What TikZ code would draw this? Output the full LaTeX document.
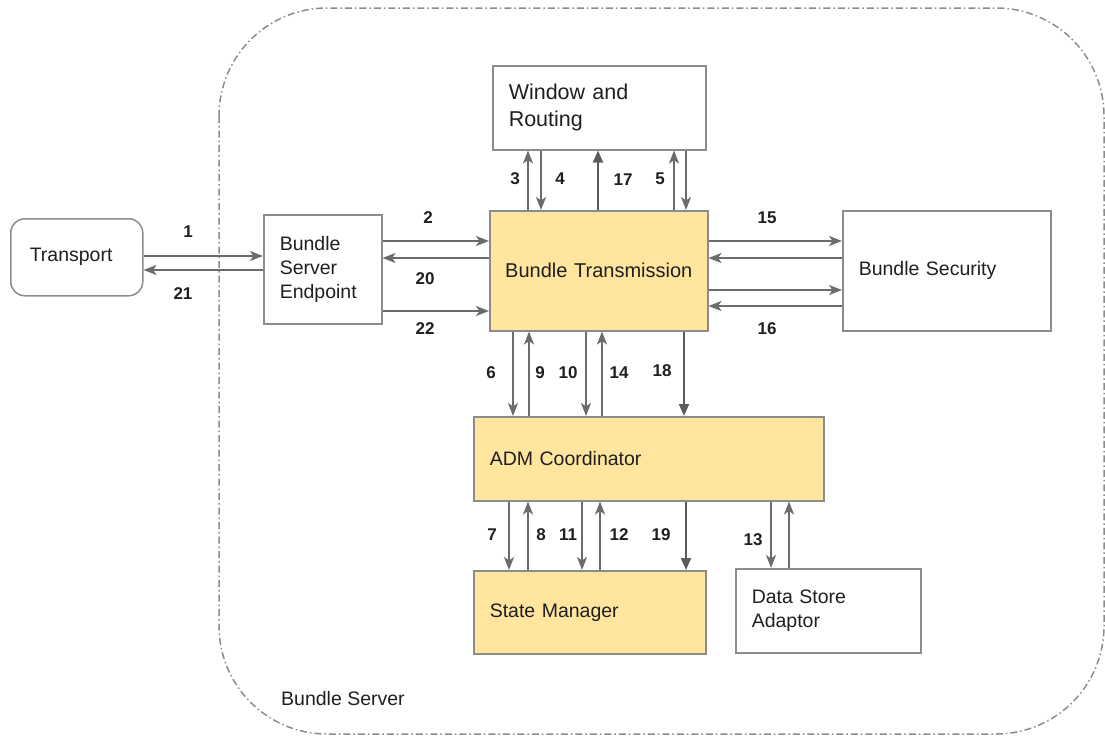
\documentclass[tikz,border=0pt]{standalone}
\usepackage{fontspec}
\setmainfont{Liberation Sans}
\usetikzlibrary{arrows.meta,positioning}
\definecolor{boxline}{HTML}{8C8C8C}
\definecolor{arrline}{HTML}{6B6B6B}
\definecolor{txt}{HTML}{1F1F1F}
\definecolor{hotfill}{HTML}{FFE59E}

\tikzset{
  blk/.style={draw=boxline, line width=1.5pt, text=txt, inner xsep=16pt, inner ysep=0pt,
    anchor=north west, align=left, font=\fontsize{19.5}{24}\selectfont},
  hot/.style={blk, fill=hotfill},
  arr/.style={draw=arrline, line width=1.8pt, -{Stealth[length=13pt,width=10pt,inset=3.5pt]}},
  darr/.style={draw=arrline!85!black, line width=1.8pt, -{Triangle[length=12pt,width=10pt]}},
  num/.style={font=\bfseries\fontsize{17}{17}\selectfont, text=txt, inner sep=0pt},
}

\begin{document}
\begin{tikzpicture}[x=1pt,y=-1pt]
        \useasboundingbox (0,0) rectangle (1105,736);
        % server frame
        \draw[boxline, line width=1.5pt, rounded corners=108pt,
              dash pattern=on 7pt off 3pt on 1.5pt off 3pt] (219,8) rectangle (1104,734);
        \node[anchor=west, text=txt, inner sep=0pt, font=\fontsize{19.5}{24}\selectfont] (srv) at (281,699) {Bundle Server};

        % boxes
        \node[blk, rounded corners=14pt, inner xsep=19pt, minimum width=132pt, minimum height=77pt, text width=94pt] (tr) at (10,218) {Transport};
        \node[blk, minimum width=118pt, minimum height=109pt, text width=86pt] (bse) at (263,214) {Bundle\\Server\\Endpoint};
        \node[blk, minimum width=213pt, minimum height=84pt, text width=181pt,
              font=\fontsize{21.5}{27}\selectfont] (wr) at (492,65) {Window and\\Routing};
        \node[hot, align=center, inner xsep=4pt, minimum width=218pt, minimum height=120pt, text width=210pt,
              font=\fontsize{20}{24}\selectfont] (bt) at (489,210) {Bundle Transmission};
        \node[blk, minimum width=208pt, minimum height=120pt, text width=176pt] (bs) at (842,210) {Bundle Security};
        \node[hot, minimum width=350pt, minimum height=84pt, text width=318pt] (adm) at (473,416) {ADM Coordinator};
        \node[hot, minimum width=232pt, minimum height=83pt, text width=200pt] (sm) at (473,570) {State Manager};
        \node[blk, minimum width=185pt, minimum height=84pt, text width=153pt] (ds) at (735,568) {Data Store\\Adaptor};

        % transport <-> endpoint
        \draw[arr] (tr.east |- 0,256) -- (bse.west |- 0,256);
        \draw[arr] (bse.west |- 0,270) -- (tr.east |- 0,270);
        \node[num] (n1) at (188,232) {1};
        \node[num] (n21) at (183,294) {21};

        % endpoint <-> transmission
        \draw[arr] (bse.east |- 0,241) -- (bt.west |- 0,241);
        \draw[arr] (bt.west |- 0,258) -- (bse.east |- 0,258);
        \draw[arr] (bse.east |- 0,311) -- (bt.west |- 0,311);
        \node[num] (n2) at (428,218) {2};
        \node[num] (n20) at (425,279) {20};
        \node[num] (n22) at (425,329) {22};

        % transmission <-> window and routing
        \draw[arr] (bt.north -| 528,0) -- (wr.south -| 528,0);
        \draw[arr] (wr.south -| 541,0) -- (bt.north -| 541,0);
        \draw[darr] (bt.north -| 598,0) -- (wr.south -| 598,0);
        \draw[arr] (bt.north -| 674,0) -- (wr.south -| 674,0);
        \draw[arr] (wr.south -| 686,0) -- (bt.north -| 686,0);
        \node[num] (n3) at (515,179) {3};
        \node[num] (n4) at (560,179) {4};
        \node[num] (n17) at (623,180) {17};
        \node[num] (n5) at (660,179) {5};

        % transmission <-> security
        \draw[arr] (bt.east |- 0,241) -- (bs.west |- 0,241);
        \draw[arr] (bs.west |- 0,258) -- (bt.east |- 0,258);
        \draw[arr] (bt.east |- 0,290) -- (bs.west |- 0,290);
        \draw[arr] (bs.west |- 0,306) -- (bt.east |- 0,306);
        \node[num] (n15) at (767,218) {15};
        \node[num] (n16) at (767,329) {16};

        % transmission <-> coordinator
        \draw[arr] (bt.south -| 513,0) -- (adm.north -| 513,0);
        \draw[arr] (adm.north -| 529,0) -- (bt.south -| 529,0);
        \draw[arr] (bt.south -| 586,0) -- (adm.north -| 586,0);
        \draw[arr] (adm.north -| 602,0) -- (bt.south -| 602,0);
        \draw[darr] (bt.south -| 684,0) -- (adm.north -| 684,0);
        \node[num] (n6) at (491,373) {6};
        \node[num] (n9) at (540,373) {9};
        \node[num] (n10) at (568,373) {10};
        \node[num] (n14) at (619,373) {14};
        \node[num] (n18) at (662,371) {18};

        % coordinator <-> state manager
        \draw[arr] (adm.south -| 509,0) -- (sm.north -| 509,0);
        \draw[arr] (sm.north -| 528,0) -- (adm.south -| 528,0);
        \draw[arr] (adm.south -| 582,0) -- (sm.north -| 582,0);
        \draw[arr] (sm.north -| 600,0) -- (adm.south -| 600,0);
        \draw[darr] (adm.south -| 686,0) -- (sm.north -| 686,0);
        \node[num] (n7) at (492,535) {7};
        \node[num] (n8) at (541,535) {8};
        \node[num] (n11) at (568,535) {11};
        \node[num] (n12) at (619,535) {12};
        \node[num] (n19) at (661,535) {19};

        % coordinator <-> data store
        \draw[arr] (adm.south -| 771,0) -- (ds.north -| 771,0);
        \draw[arr] (ds.north -| 789,0) -- (adm.south -| 789,0);
        \node[num] (n13) at (753,540) {13};
\end{tikzpicture}
\end{document}
